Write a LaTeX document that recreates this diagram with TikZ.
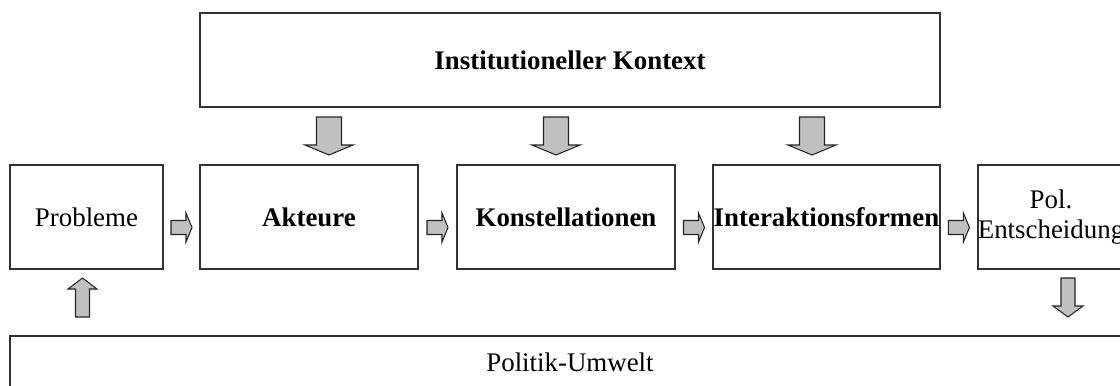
\documentclass[tikz,border=0pt]{standalone}
\usepackage{fontspec}
\setmainfont{Liberation Serif}
\usetikzlibrary{calc}

\definecolor{arrowgray}{RGB}{192,192,192}
\definecolor{linegray}{RGB}{50,50,50}

\tikzset{
    box/.style={draw=linegray, line width=0.85pt, inner sep=0pt, align=center,
        minimum height=2.08cm, font=\fontsize{15.3}{17}\selectfont},
    boldbox/.style={box, font=\fontsize{15.3}{17}\selectfont\bfseries},
    arrowstyle/.style={draw=black!85, line width=0.6pt, fill=arrowgray, line join=miter},
    % length / shaft width / head width / head length
    pics/blockarrow/.style args={#1/#2/#3/#4}{code={
        \draw[arrowstyle] (-#1/2,-#2/2) -- (#1/2-#4,-#2/2) -- (#1/2-#4,-#3/2)
            -- (#1/2,0) -- (#1/2-#4,#3/2) -- (#1/2-#4,#2/2) -- (-#1/2,#2/2) -- cycle;
    }},
}

\begin{document}
\begin{tikzpicture}
    \useasboundingbox (0,0) rectangle (22.4,-7.7);
    \fill[white] (0,0) rectangle (22.4,-7.7);
    \clip (0,0) rectangle (22.4,-7.7);

    \node[boldbox, minimum width=14.8cm, minimum height=1.88cm] (kontext) at (11.4,-1.2) {Institutioneller Kontext};

    \node[box, minimum width=3.06cm] (probleme) at (1.73,-4.34) {Probleme};
    \node[boldbox, minimum width=4.36cm] (akteure) at (6.18,-4.34) {Akteure};
    \node[boldbox, minimum width=4.36cm] (konstellationen) at (11.32,-4.34) {Konstellationen};
    \node[boldbox, minimum width=4.54cm] (interaktion) at (16.53,-4.34) {Interaktionsformen};
    \node[box, minimum width=2.92cm] (entscheidung) at (21.02,-4.34) {Pol.\\Entscheidung};

    \node[box, minimum width=22.4cm, minimum height=1.04cm] (umwelt) at (11.4,-7.24) {Politik-Umwelt};

    % from the context down to the row
    \pic[rotate=-90] at ($(akteure.north)!0.5!(akteure.north |- kontext.south)+(0.4,0)$) {blockarrow={0.76/0.5/0.96/0.2}};
    \pic[rotate=-90] at ($(konstellationen.north)!0.5!(konstellationen.north |- kontext.south)+(-0.2,0)$) {blockarrow={0.76/0.5/0.96/0.2}};
    \pic[rotate=-90] at ($(interaktion.north)!0.5!(interaktion.north |- kontext.south)+(-0.29,0)$) {blockarrow={0.76/0.5/0.96/0.2}};

    % along the row
    \pic at ($(probleme.east)!0.5!(akteure.west)+(0,-0.21)$) {blockarrow={0.42/0.28/0.58/0.12}};
    \pic at ($(akteure.east)!0.5!(konstellationen.west)+(0,-0.21)$) {blockarrow={0.42/0.28/0.58/0.12}};
    \pic at ($(konstellationen.east)!0.5!(interaktion.west)+(0,-0.21)$) {blockarrow={0.42/0.28/0.58/0.12}};
    \pic at ($(interaktion.east)!0.5!(entscheidung.west)+(0,-0.21)$) {blockarrow={0.42/0.28/0.58/0.12}};

    % environment in and out
    \pic[rotate=90] at ($(probleme.south)!0.5!(probleme.south |- umwelt.north)+(-0.08,0.1)$) {blockarrow={0.78/0.28/0.58/0.22}};
    \pic[rotate=-90] at ($(entscheidung.south)!0.5!(entscheidung.south |- umwelt.north)+(0.34,0.1)$) {blockarrow={0.78/0.28/0.6/0.22}};
\end{tikzpicture}
\end{document}
